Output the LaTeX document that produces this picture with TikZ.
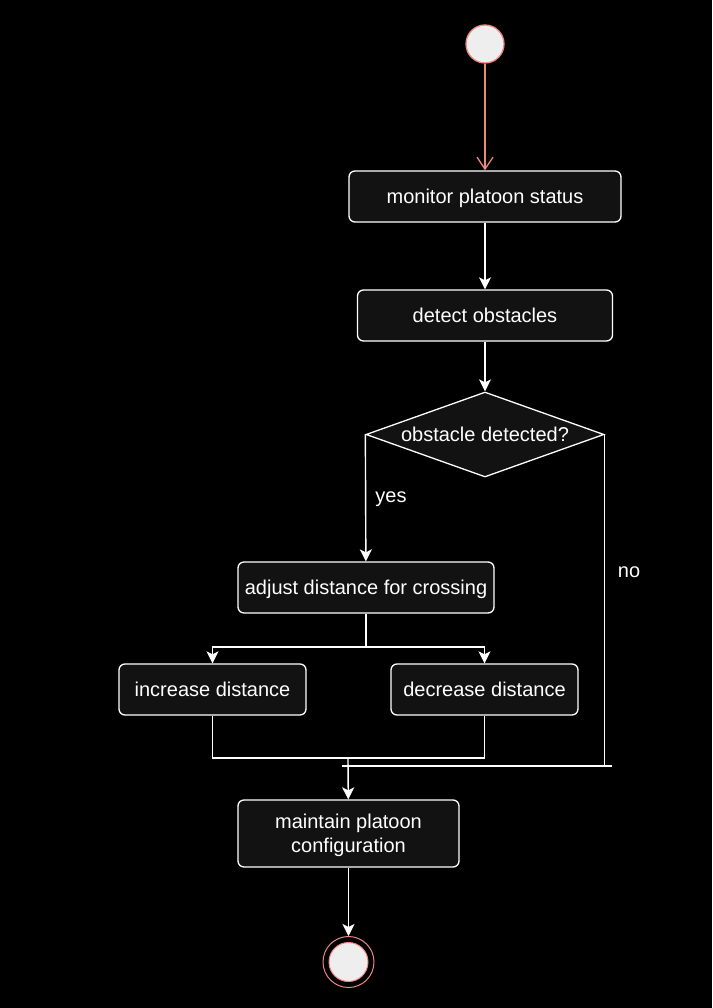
\documentclass[tikz,border=0pt]{standalone}
\usepackage{fontspec}
\setmainfont{Liberation Sans}
\usetikzlibrary{shapes.geometric,arrows.meta}
\definecolor{boxgray}{HTML}{121212}
\definecolor{salmon}{HTML}{EE8782}
\definecolor{dotgray}{HTML}{EEEEEE}
\begin{document}
\begin{tikzpicture}[node distance=119pt, x=1pt, y=1pt, font=\fontsize{20}{24}\selectfont]
      \tikzstyle{startnode} = [circle, minimum size=38pt, inner sep=0pt, draw=salmon, fill=dotgray, line width=1.3pt]
      \tikzstyle{stopring} = [circle, minimum size=51pt, inner sep=0pt, draw=salmon, line width=1pt]
      \tikzstyle{stopdot} = [circle, minimum size=39pt, inner sep=0pt, draw=salmon, fill=dotgray, line width=1pt]
      \tikzstyle{action} = [rectangle, rounded corners=6pt, minimum width=187pt, minimum height=51pt, inner sep=4pt, text depth=0pt, text centered, draw=white, fill=boxgray, text=white, line width=1.3pt]
      \tikzstyle{decision} = [diamond, aspect=2.8, minimum width=238pt, minimum height=85pt, inner sep=0pt, draw=white, fill=boxgray, text=white, line width=1.3pt]
      \tikzstyle{line} = [draw=white, line width=1.4pt]
      \tikzstyle{arrow} = [line, -{Stealth[length=12pt,width=12pt,inset=3pt]}]
      \tikzstyle{startarrow} = [draw=salmon, line width=1.3pt, -{Straight Barb[length=12pt,width=16pt]}]
      \tikzstyle{label} = [text=white]

      \useasboundingbox (0,0) rectangle (712,-1008);
      \fill[black] (0,0) rectangle (712,-1008);

      \node (start) [startnode] at (485,-44) {};
      \node (monitor) [action, minimum width=272pt, below of=start, yshift=-33.5pt] {monitor platoon status};
      \node (detect) [action, minimum width=255pt, below of=monitor] {detect obstacles};
      \node (check) [decision, below of=detect] {obstacle detected?};

      \node (adjust) [action, minimum width=256pt, below of=check, xshift=-119pt, yshift=-34pt] {adjust distance for crossing};
      \node (increase) [action, below of=adjust, xshift=-153.5pt, yshift=17pt] {increase distance};
      \node (decrease) [action, right of=increase, xshift=153pt] {decrease distance};

      \node (maintain) [action, minimum width=221pt, minimum height=67pt, align=center, below of=adjust, xshift=-17.5pt, yshift=-127pt] {maintain platoon\\configuration};
      \node (stop) [stopring, below of=maintain, yshift=-9.5pt] {};
      \node (stopin) [stopdot] at (stop) {};

      \coordinate (split) at (366,-647);
      \coordinate (merge) at (348,-758);
      \coordinate (barL) at (342,-766);
      \coordinate (barR) at (612,-766);

      \node (yes) [label] at (391,-499) {yes};
      \node (no) [label] at (629,-572) {no};

      \draw [startarrow] (start) -- (monitor);
      \draw [arrow] (monitor) -- (detect);
      \draw [arrow] (detect) -- (check);

      \draw [arrow] (check.west) -- (adjust);
      \draw [line] (check.east) -- (check.east |- barR);

      \draw [line] (adjust) -- (split);
      \draw [arrow] (split) -| (increase);
      \draw [arrow] (split) -| (decrease);

      \draw [line] (increase) |- (merge) -| (decrease);
      \draw [line] (barL) -- (barR);
      \draw [arrow] (merge) -- (maintain);

      \draw [arrow] (maintain) -- (stop);
    \end{tikzpicture}
\end{document}
